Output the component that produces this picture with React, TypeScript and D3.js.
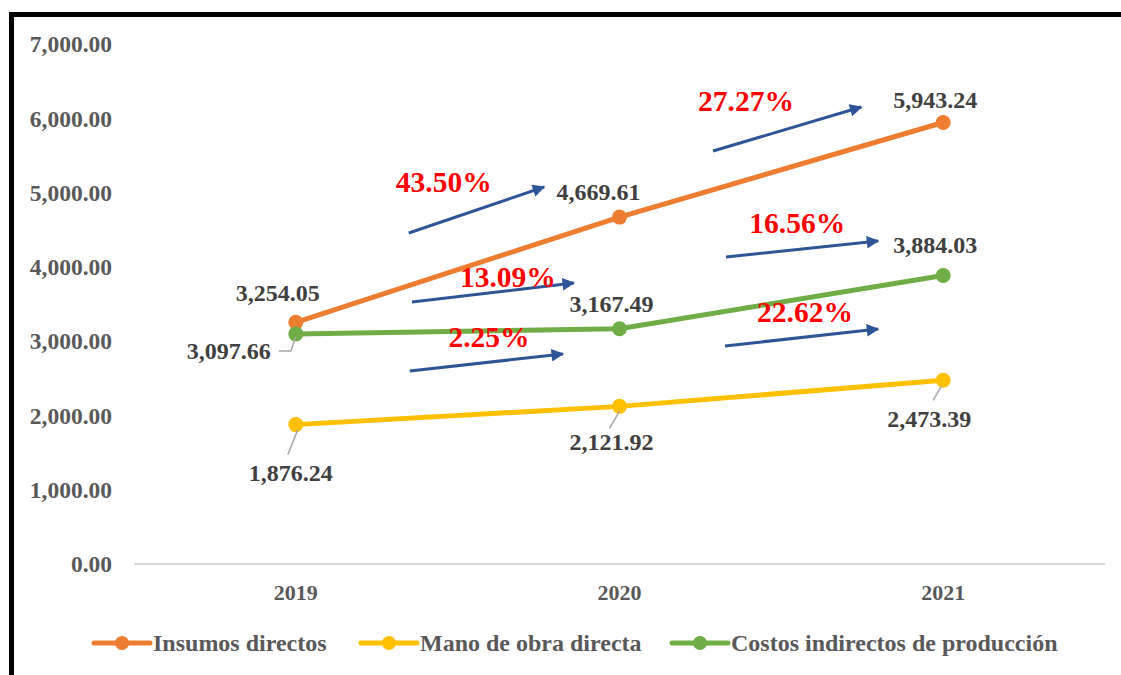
import React from "react";
import * as d3 from "d3";

const years = ["2019", "2020", "2021"];
const insumos = [3254.05, 4669.61, 5943.24];
const manoObra = [1876.24, 2121.92, 2473.39];
const costosInd = [3097.66, 3167.49, 3884.03];
const seriesNames = ["Insumos directos", "Mano de obra directa", "Costos indirectos de producción"];
const yTicks = [0, 1000, 2000, 3000, 4000, 5000, 6000, 7000];
const pctLabels = ["43.50%", "27.27%", "13.09%", "2.25%", "16.56%", "22.62%"];
// annotation positions in data space: x as category index, y as value
const pctPos = [
  [0.457, 5008], [1.391, 6098], [0.655, 3729], [0.597, 2921], [1.549, 4456], [1.573, 3258],
];
const arrowPos = [
  [0.349, 4456, 0.767, 5075],
  [1.289, 5560, 1.747, 6152],
  [0.359, 3527, 0.859, 3783],
  [0.352, 2598, 0.825, 2827],
  [1.329, 4133, 1.799, 4348],
  [1.326, 2935, 1.799, 3163],
];

const colors = ["#ED7D31", "#FFC000", "#70AD47"];
const FONT = "'Liberation Serif', 'Times New Roman', serif";

export default function App() {
  const W = 1121, H = 675;
  const y = d3.scaleLinear().domain([0, 7000]).range([564, 44]);
  const band = d3.scaleBand<string>().domain(years).range([134, 1105]);
  const x = (yr: string) => (band(yr) as number) + band.bandwidth() / 2;
  const xi = d3.scaleLinear().domain([0, 2]).range([x(years[0]), x(years[2])]);
  const line = d3.line<number>().x((_, i) => x(years[i])).y((d) => y(d));
  const series = [insumos, manoObra, costosInd];

  const labelOff: [number, number, string][][] = [
    [[-18, -21, "middle"], [-21, -17, "middle"], [-8, -15, "middle"]],
    [[-5, 56, "middle"], [-8, 44, "middle"], [-14, 47, "middle"]],
    [[-25, 25, "end"], [-8, -17, "middle"], [-8, -22, "middle"]],
  ];
  const leaders: [number, number, [number, number][]][] = [
    [2, 0, [[0, 3], [-5, 17], [-17, 17]]],
    [1, 0, [[2, 5], [-8, 30]]],
    [1, 1, [[0, 5], [-10, 22]]],
    [1, 2, [[-2, 6], [-10, 20]]],
  ];

  const legendX = [94, 361, 672];

  return (
    <svg width={W} height={H} style={{ position: "absolute", left: 0, top: 0, background: "#fff" }}>
      <defs>
        <marker id="ah" viewBox="0 0 10 10" refX="9" refY="5" markerWidth="4.6" markerHeight="4.2" orient="auto" markerUnits="strokeWidth">
          <path d="M0,0 L10,5 L0,10 z" fill="#2F5597" />
        </marker>
      </defs>
      <rect x={0} y={0} width={W} height={H} fill="#fff" />
      <rect x={11.5} y={14.5} width={W + 50} height={H + 50} fill="none" stroke="#000" strokeWidth={5} />

      {yTicks.map((t) => (
        <text key={t} x={112} y={y(t)} dy="0.35em" textAnchor="end" fontFamily={FONT} fontWeight="bold" fontSize={23.5} fill="#595959">
          {d3.format(",.2f")(t)}
        </text>
      ))}
      <line x1={134} x2={1105} y1={y(0)} y2={y(0)} stroke="#D9D9D9" strokeWidth={2} />
      {years.map((yr) => (
        <text key={yr} x={x(yr)} y={600} textAnchor="middle" fontFamily={FONT} fontWeight="bold" fontSize={22} fill="#595959">
          {yr}
        </text>
      ))}

      {arrowPos.map((a, i) => (
        <line key={i} x1={xi(a[0])} y1={y(a[1])} x2={xi(a[2])} y2={y(a[3])} stroke="#2F5597" strokeWidth={3} markerEnd="url(#ah)" />
      ))}

      {series.map((s, si) => (
        <g key={si}>
          <path d={line(s) || ""} fill="none" stroke={colors[si]} strokeWidth={5} strokeLinecap="round" />
          {s.map((v, i) => (
            <circle key={i} cx={x(years[i])} cy={y(v)} r={7.5} fill={colors[si]} />
          ))}
        </g>
      ))}

      {pctLabels.map((p, i) => (
        <text key={p} x={xi(pctPos[i][0])} y={y(pctPos[i][1])} textAnchor="middle" fontFamily={FONT} fontWeight="bold" fontSize={29.5} fill="#FF0000">
          {p}
        </text>
      ))}

      {leaders.map(([si, i, pts], k) => {
        const px = x(years[i]);
        const py = y(series[si][i]);
        return (
          <polyline key={k} points={pts.map(([dx, dy]) => `${px + dx},${py + dy}`).join(" ")} fill="none" stroke="#A6A6A6" strokeWidth={1.5} />
        );
      })}

      {series.map((s, si) =>
        s.map((v, i) => {
          const [dx, dy, anchor] = labelOff[si][i];
          return (
            <text key={`${si}-${i}`} x={x(years[i]) + dx} y={y(v) + dy} textAnchor={anchor as any} fontFamily={FONT} fontWeight="bold" fontSize={24} fill="#404040">
              {d3.format(",.2f")(v)}
            </text>
          );
        })
      )}

      {seriesNames.map((n, i) => (
        <g key={n} transform={`translate(${legendX[i]},643)`}>
          <line x1={0} x2={56} y1={0} y2={0} stroke={colors[i]} strokeWidth={5} strokeLinecap="round" />
          <circle cx={28} cy={0} r={7} fill={colors[i]} />
          <text x={59} y={0} dy="0.33em" fontFamily={FONT} fontWeight="bold" fontSize={24} fill="#595959">
            {n}
          </text>
        </g>
      ))}
    </svg>
  );
}
